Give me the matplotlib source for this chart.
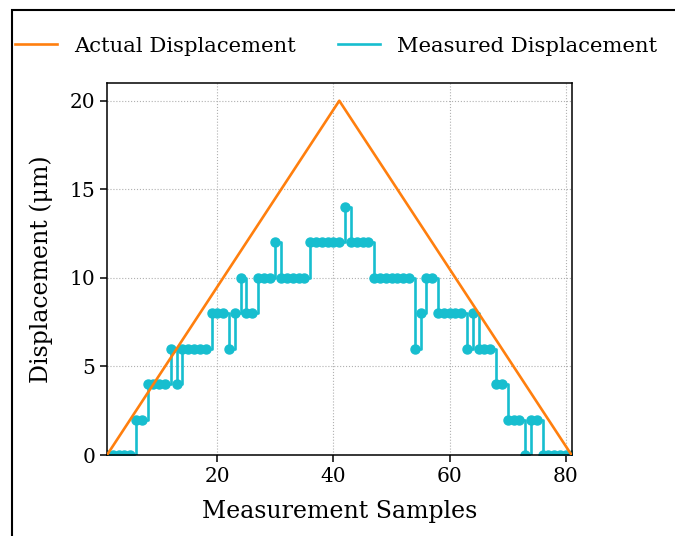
import numpy as np
import matplotlib.pyplot as plt
from matplotlib.patches import Rectangle
from matplotlib.lines import Line2D

plt.rcParams['font.family'] = ['DejaVu Serif']

# 数据：样本序号、实际位移（三角波）、量化后的测量位移
samples = np.arange(1, 82)
actual_x = [1, 41, 81]
actual_y = [0, 20, 0]
measured = [0, 0, 0, 0, 0, 2, 2, 4, 4, 4, 4, 6, 4, 6, 6, 6, 6, 6, 8, 8,
            8, 6, 8, 10, 8, 8, 10, 10, 10, 12, 10, 10, 10, 10, 10, 12, 12, 12, 12, 12,
            12, 14, 12, 12, 12, 12, 10, 10, 10, 10, 10, 10, 10, 6, 8, 10, 10, 8, 8, 8,
            8, 8, 6, 8, 6, 6, 6, 4, 4, 2, 2, 2, 0, 2, 2, 0, 0, 0, 0, 0, 0]
x_ticks = [20, 40, 60, 80]
y_ticks = [0, 5, 10, 15, 20]

orange = '#ff7f0e'
cyan = '#17becf'

fig = plt.figure(figsize=(6.75, 5.36), dpi=100)
ax = fig.add_axes([0.1585, 0.1511, 0.6883, 0.694])

ax.plot(actual_x, actual_y, color=orange, linewidth=1.9, zorder=3)
ax.plot(samples, measured, color=cyan, linewidth=1.9, marker='o',
        markersize=6.5, drawstyle='steps-post', zorder=2)

ax.set_xlim(1, 81)
ax.set_ylim(0, 21)
ax.set_xticks(x_ticks)
ax.set_yticks(y_ticks)
ax.grid(True, linestyle=':', color='#b0b0b0', linewidth=0.8)
ax.tick_params(labelsize=14.5, length=5, width=1.1)
for s in ax.spines.values():
    s.set_linewidth(1.1)
ax.set_xlabel('Measurement Samples', fontsize=17, labelpad=10)
ax.set_ylabel('Displacement (μm)', fontsize=17, labelpad=12)

handles = [Line2D([], [], color=orange, linewidth=1.9),
           Line2D([], [], color=cyan, linewidth=1.9)]
fig.legend(handles, ['Actual Displacement', 'Measured Displacement'],
           loc='center left', bbox_to_anchor=(0.0098, 0.914), ncol=2,
           frameon=False, borderaxespad=0, fontsize=15.2)

# 外框（原图被裁切的边框）
fig.patches.append(Rectangle((12 / 675, -0.2), 1.2, 0.2 + 1 - 10 / 536,
                             transform=fig.transFigure, fill=False,
                             edgecolor='black', linewidth=1.5))

fig.savefig('out.png', dpi=100)
